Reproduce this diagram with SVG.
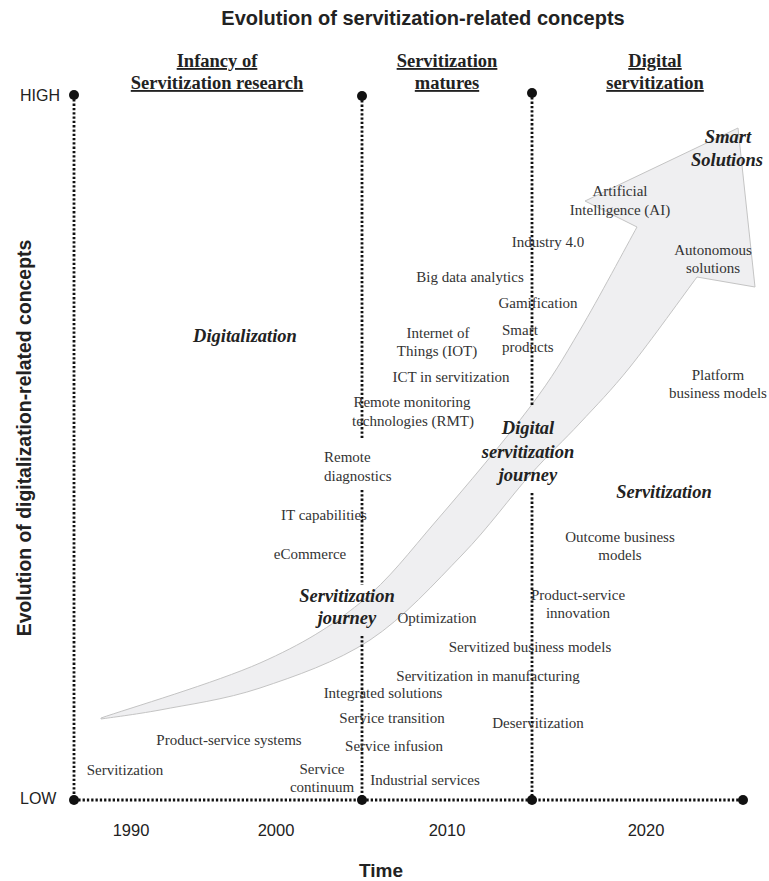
<svg xmlns="http://www.w3.org/2000/svg" width="769" height="881" viewBox="0 0 769 881">
<style>
.t{font-family:"Liberation Serif","Times New Roman",serif;font-size:15px;fill:#333;text-anchor:middle}
.l{text-anchor:start}
.bi{font-family:"Liberation Serif","Times New Roman",serif;font-weight:bold;font-style:italic;font-size:18.5px;fill:#222;text-anchor:middle}
.h{font-family:"Liberation Serif","Times New Roman",serif;font-weight:bold;font-size:18.5px;fill:#222;text-anchor:middle;text-decoration:underline}
.s{font-family:"Liberation Sans",Arial,sans-serif;fill:#222}
.dl{stroke:#111;stroke-width:2.8;stroke-dasharray:2.3 2;fill:none}
.end{fill:#111}
.arrow{fill:#efeff1;stroke:#c4c4c4;stroke-width:1}
</style>
<rect width="769" height="881" fill="#fff"/>
<g id="journey-arrow">
<path class="arrow" d="M101,718 C127.5,708.8 216.8,682.2 260,663 C303.2,643.8 330.5,626.8 360,603 C389.5,579.2 408.7,552.7 437,520 C465.3,487.3 506.2,438.7 530,407 C553.8,375.3 562.2,360 580,330 C597.8,300 627.5,244.2 637,227 L585,201 L738,128 L755,287 L697,277 C685.8,292 649.5,342.7 630,367 C610.5,391.3 596.7,405 580,423 C563.3,441 549.7,453 530,475 C510.3,497 488.7,527.5 462,555 C435.3,582.5 403.7,617.8 370,640 C336.3,662.2 295,676.3 260,688 C225,699.7 186.5,704.8 160,710 C133.5,714.8 110.8,717.5 101,719 Z"/>
</g>
<g id="connectors">
<line class="dl" x1="74" y1="95" x2="74" y2="800"/>
<line class="dl" x1="362" y1="96" x2="362" y2="438"/>
<line class="dl" x1="362" y1="490" x2="362" y2="585"/>
<line class="dl" x1="362" y1="636" x2="362" y2="800"/>
<line class="dl" x1="532" y1="93" x2="532" y2="407"/>
<line class="dl" x1="532" y1="493" x2="532" y2="800"/>
<line class="dl" x1="74" y1="800" x2="743" y2="800"/>
<circle class="end" cx="74" cy="95" r="5"/>
<circle class="end" cx="362" cy="96" r="5"/>
<circle class="end" cx="532" cy="93" r="5"/>
<circle class="end" cx="74" cy="800" r="5"/>
<circle class="end" cx="362" cy="800" r="5"/>
<circle class="end" cx="532" cy="800" r="5"/>
<circle class="end" cx="743" cy="800" r="5"/>
</g>
<g id="title"><text class="s" x="423" y="25" font-size="20" font-weight="bold" text-anchor="middle">Evolution of servitization-related concepts</text></g>
<g id="y-axis-label"><text class="s" transform="translate(31,438) rotate(-90)" font-size="19.4" font-weight="bold" text-anchor="middle">Evolution of digitalization-related concepts</text></g>
<g id="x-axis-label"><text class="s" x="381" y="877" font-size="19" font-weight="bold" text-anchor="middle">Time</text></g>
<g id="high"><text class="s" x="20" y="101" font-size="16">HIGH</text></g>
<g id="low"><text class="s" x="20" y="804" font-size="16">LOW</text></g>
<g id="years" class="s" font-size="16.5">
<text x="131" y="836" text-anchor="middle">1990</text>
<text x="276" y="836" text-anchor="middle">2000</text>
<text x="447" y="836" text-anchor="middle">2010</text>
<text x="646" y="836" text-anchor="middle">2020</text>
</g>
<g id="phase-infancy"><text class="h" x="217" y="67">Infancy of</text><text class="h" x="217" y="89">Servitization research</text></g>
<g id="phase-matures"><text class="h" x="447" y="67">Servitization</text><text class="h" x="447" y="89">matures</text></g>
<g id="phase-digital"><text class="h" x="655" y="67">Digital</text><text class="h" x="655" y="89">servitization</text></g>
<g id="smart-solutions"><text class="bi" x="728" y="143">Smart</text><text class="bi" x="727" y="166">Solutions</text></g>
<g id="digitalization"><text class="bi" x="245" y="342">Digitalization</text></g>
<g id="digital-servitization-journey"><text class="bi" x="528" y="434">Digital</text><text class="bi" x="528" y="458">servitization</text><text class="bi" x="528" y="481">journey</text></g>
<g id="servitization-right"><text class="bi" x="664" y="498">Servitization</text></g>
<g id="servitization-journey"><text class="bi" x="347" y="602">Servitization</text><text class="bi" x="347" y="624">journey</text></g>
<g id="ai"><text class="t" x="620" y="196">Artificial</text><text class="t" x="620" y="215">Intelligence (AI)</text></g>
<g id="industry40"><text class="t" x="548" y="247">Industry 4.0</text></g>
<g id="autonomous"><text class="t" x="713" y="255">Autonomous</text><text class="t" x="713" y="273">solutions</text></g>
<g id="big-data"><text class="t" x="470" y="282">Big data analytics</text></g>
<g id="gamification"><text class="t" x="538" y="308">Gamification</text></g>
<g id="iot"><text class="t" x="438" y="338">Internet of</text><text class="t" x="437" y="356">Things (IOT)</text></g>
<g id="smart-products"><text class="t l" x="502" y="335">Smart</text><text class="t l" x="502" y="352">products</text></g>
<g id="ict"><text class="t" x="451" y="382">ICT in servitization</text></g>
<g id="rmt"><text class="t" x="412" y="407">Remote monitoring</text><text class="t" x="413" y="426">technologies (RMT)</text></g>
<g id="platform"><text class="t" x="718" y="380">Platform</text><text class="t" x="718" y="398">business models</text></g>
<g id="remote-diagnostics"><text class="t l" x="324" y="462">Remote</text><text class="t l" x="324" y="481">diagnostics</text></g>
<g id="it-capabilities"><text class="t" x="324" y="520">IT capabilities</text></g>
<g id="ecommerce"><text class="t" x="310" y="559">eCommerce</text></g>
<g id="outcome"><text class="t" x="620" y="542">Outcome business</text><text class="t" x="620" y="560">models</text></g>
<g id="ps-innovation"><text class="t" x="578" y="600">Product-service</text><text class="t" x="578" y="618">innovation</text></g>
<g id="optimization"><text class="t" x="437" y="623">Optimization</text></g>
<g id="servitized-bm"><text class="t" x="530" y="652">Servitized business models</text></g>
<g id="serv-manufacturing"><text class="t" x="488" y="681">Servitization in manufacturing</text></g>
<g id="integrated"><text class="t" x="383" y="698">Integrated solutions</text></g>
<g id="transition"><text class="t" x="392" y="723">Service transition</text></g>
<g id="deservitization"><text class="t" x="538" y="728">Deservitization</text></g>
<g id="pss"><text class="t" x="229" y="745">Product-service systems</text></g>
<g id="infusion"><text class="t" x="394" y="751">Service infusion</text></g>
<g id="servitization-low"><text class="t" x="125" y="775">Servitization</text></g>
<g id="continuum"><text class="t" x="322" y="774">Service</text><text class="t" x="322" y="792">continuum</text></g>
<g id="industrial"><text class="t" x="425" y="785">Industrial services</text></g>
</svg>
